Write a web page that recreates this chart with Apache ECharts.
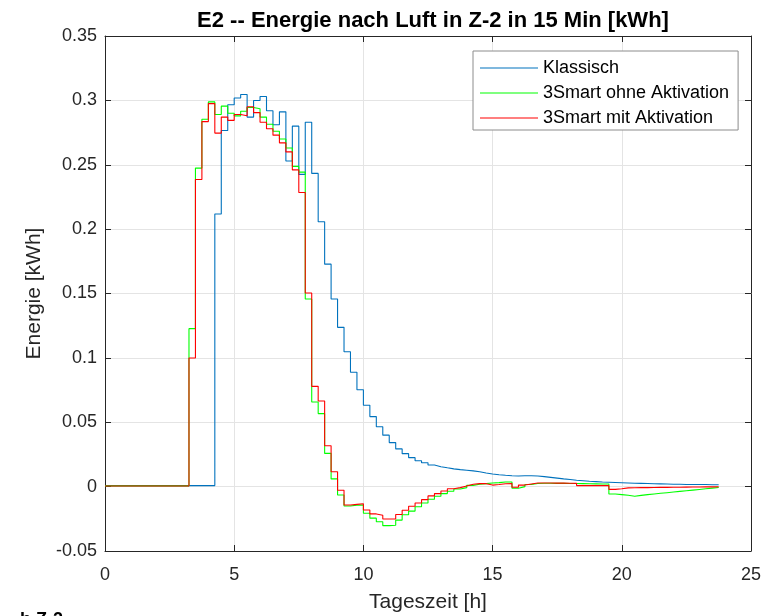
<!DOCTYPE html>
<html>
<head>
<meta charset="utf-8">
<script src="https://cdn.jsdelivr.net/npm/echarts@6/dist/echarts.min.js"></script>
<style>
html,body{margin:0;padding:0;background:#fff;}
#chart{width:775px;height:616px;}
</style>
</head>
<body>
<div id="chart"></div>
<script>
// time step in hours (15 min) and number of intervals
var stepHours = 0.25;
var seriesNames = ['Klassisch', '3Smart ohne Aktivation', '3Smart mit Aktivation'];
var xTicks = [0, 5, 10, 15, 20, 25];
var yTicks = [-0.05, 0, 0.05, 0.1, 0.15, 0.2, 0.25, 0.3, 0.35];

var klassisch = [
  0.0008,0.0008,0.0008,0.0008,0.0008,0.0008,0.0008,0.0008,0.0008,0.0008,0.0008,0.0008,0.0008,0.0008,0.0008,0.0008,0.0008,
  0.2117,0.2766,0.2966,0.3018,0.3046,0.2870,0.2999,0.3030,0.2919,0.2811,0.2911,0.2529,0.2800,0.2425,0.2830,0.2433,
  0.2057,0.1728,0.1457,0.1237,0.1048,0.0888,0.0753,0.0632,0.0544,0.0465,0.0400,0.0342,0.0293,0.0256,0.0225,0.0201,
  0.0185,0.0168,0.0155,0.0146,0.0138,0.0132,0.0127,0.0122,0.0116,0.0106,0.0098,0.0092,0.0088,0.0085,0.0083,0.0084,
  0.0085,0.0083,0.0078,0.0072,0.0066,0.0060,0.0055,0.0050,0.0046,0.0042,0.0039,0.0036,0.0034,0.0032,0.0030,0.0028,
  0.0026,0.0025,0.0024,0.0022,0.0021,0.0020,0.0019,0.0018,0.0017,0.0017,0.0016,0.0016,0.0015,0.0015,0.0015
];
var ohneAktivation = [
  0.0006,0.0006,0.0006,0.0006,0.0006,0.0006,0.0006,0.0006,0.0006,0.0006,0.0006,0.0006,0.0006,
  0.1227,0.2474,0.2853,0.2988,0.2890,0.2955,0.2900,0.2880,0.2915,0.2945,0.2935,0.2870,0.2815,0.2760,0.2700,0.2630,
  0.2487,0.2443,0.1457,0.0657,0.0567,0.0258,0.0060,-0.0065,-0.0150,-0.0144,-0.0143,-0.0207,-0.0245,-0.0273,-0.0303,
  -0.0300,-0.0260,-0.0218,-0.0190,-0.0156,-0.0127,-0.0098,-0.0075,-0.0054,-0.0036,-0.0018,-0.0008,0.0010,0.0018,
  0.0023,0.0028,0.0031,0.0036,0.0036,-0.0013,0.0000,0.0016,0.0024,0.0026,0.0026,0.0025,0.0025,0.0024,0.0024,0.0023,
  0.0022,0.0021,0.0020,0.0020,-0.0057,-0.0062,-0.0067,-0.0075,-0.0068,-0.0062,-0.0057,-0.0052,-0.0047,-0.0042,
  -0.0037,-0.0032,-0.0027,-0.0022,-0.0017,-0.0012,-0.0007,-0.0002
];
var mitAktivation = [
  0.0005,0.0005,0.0005,0.0005,0.0005,0.0005,0.0005,0.0005,0.0005,0.0005,0.0005,0.0005,0.0005,
  0.0999,0.2385,0.2835,0.2975,0.2746,0.2870,0.2845,0.2890,0.2880,0.2950,0.2905,0.2830,0.2780,0.2730,0.2670,0.2600,
  0.2460,0.2285,0.1504,0.0779,0.0665,0.0318,0.0116,-0.0028,-0.0143,-0.0138,-0.0133,-0.0182,-0.0212,-0.0222,-0.0252,
  -0.0252,-0.0217,-0.0184,-0.0153,-0.0127,-0.0101,-0.0072,-0.0054,-0.0034,-0.0016,-0.0008,0.0005,0.0018,0.0023,
  0.0023,0.0012,0.0016,0.0022,0.0024,-0.0005,0.0012,0.0020,0.0028,0.0028,0.0028,0.0027,0.0027,0.0026,0.0025,0.0008,
  0.0008,0.0008,0.0008,0.0008,-0.0021,-0.0016,-0.0010,-0.0009,-0.0008,-0.0008,-0.0007,-0.0006,-0.0006,-0.0005,
  -0.0005,-0.0004,-0.0003,-0.0003,-0.0002,-0.0002,-0.0001,0.0000
];

function pairs(arr){
  var out = [];
  for (var i = 0; i < arr.length; i++) out.push([i * stepHours, arr[i]]);
  return out;
}

var axisColor = '#262626';
var font = 'Liberation Sans, Arial, Helvetica, sans-serif';

var chart = echarts.init(document.getElementById('chart'), null, {renderer: 'canvas'});

var commonHidden = {
  axisLabel: {show: false},
  splitLine: {show: false},
  axisLine: {show: true, onZero: false, lineStyle: {color: axisColor, width: 1}},
  axisTick: {show: true, inside: true, length: 6, lineStyle: {color: axisColor}}
};

chart.setOption({
  animation: false,
  backgroundColor: '#ffffff',
  title: {
    text: 'E2 -- Energie nach Luft in Z-2 in 15 Min [kWh]',
    left: 428, textAlign: 'center', top: 5,
    textStyle: {fontFamily: font, fontSize: 22, fontWeight: 'bold', color: '#000'}
  },
  graphic: [{
    type: 'text', left: 20, top: 611,
    style: {text: 'b Z-2', font: 'bold 18px ' + font, fill: '#000'}
  }],
  legend: {
    left: 473, top: 51,
    orient: 'vertical',
    padding: [8, 9, 3, 7],
    itemGap: 7,
    itemWidth: 58, itemHeight: 14,
    backgroundColor: '#ffffff',
    borderColor: '#8c8c8c', borderWidth: 1,
    textStyle: {fontFamily: font, fontSize: 18, color: '#000'},
    data: seriesNames.map(function(n){ return {name: n, icon: 'path://M0,0 L58,0 L58,1.2 L0,1.2 Z'}; })
  },
  grid: {left: 105, right: 24, top: 36, bottom: 65, containLabel: false, outerBoundsMode: 'none'},
  xAxis: [{
    type: 'value', min: xTicks[0], max: xTicks[xTicks.length - 1], interval: 5,
    name: 'Tageszeit [h]', nameLocation: 'middle', nameGap: 41,
    nameTextStyle: {fontFamily: font, fontSize: 21, color: '#262626'},
    axisLine: {show: true, onZero: false, lineStyle: {color: axisColor, width: 1}},
    axisTick: {show: true, inside: true, length: 6, lineStyle: {color: axisColor}},
    axisLabel: {fontFamily: font, fontSize: 18, color: '#262626', margin: 15},
    splitLine: {show: true, lineStyle: {color: '#e4e4e4', width: 1}}
  }, Object.assign({type: 'value', position: 'top', min: 0, max: 25, interval: 5}, commonHidden)],
  yAxis: [{
    type: 'value', min: yTicks[0], max: yTicks[yTicks.length - 1], interval: 0.05,
    name: 'Energie [kWh]', nameLocation: 'middle', nameGap: 58,
    nameTextStyle: {fontFamily: font, fontSize: 21, color: '#262626'},
    axisLine: {show: true, onZero: false, lineStyle: {color: axisColor, width: 1}},
    axisTick: {show: true, inside: true, length: 6, lineStyle: {color: axisColor}},
    axisLabel: {fontFamily: font, fontSize: 18, color: '#262626', margin: 8},
    splitLine: {show: true, lineStyle: {color: '#e4e4e4', width: 1}}
  }, Object.assign({type: 'value', position: 'right', min: -0.05, max: 0.35, interval: 0.05}, commonHidden)],
  series: [
    {name: seriesNames[0], type: 'line', step: 'end', symbol: 'none', data: pairs(klassisch),
     lineStyle: {color: '#0072BD', width: 1.1}, itemStyle: {color: '#0072BD'}},
    {name: seriesNames[1], type: 'line', step: 'end', symbol: 'none', data: pairs(ohneAktivation),
     lineStyle: {color: '#00FF00', width: 1.1}, itemStyle: {color: '#00FF00'}},
    {name: seriesNames[2], type: 'line', step: 'end', symbol: 'none', data: pairs(mitAktivation),
     lineStyle: {color: '#FF0000', width: 1.1}, itemStyle: {color: '#FF0000'}}
  ]
});
</script>
</body>
</html>
